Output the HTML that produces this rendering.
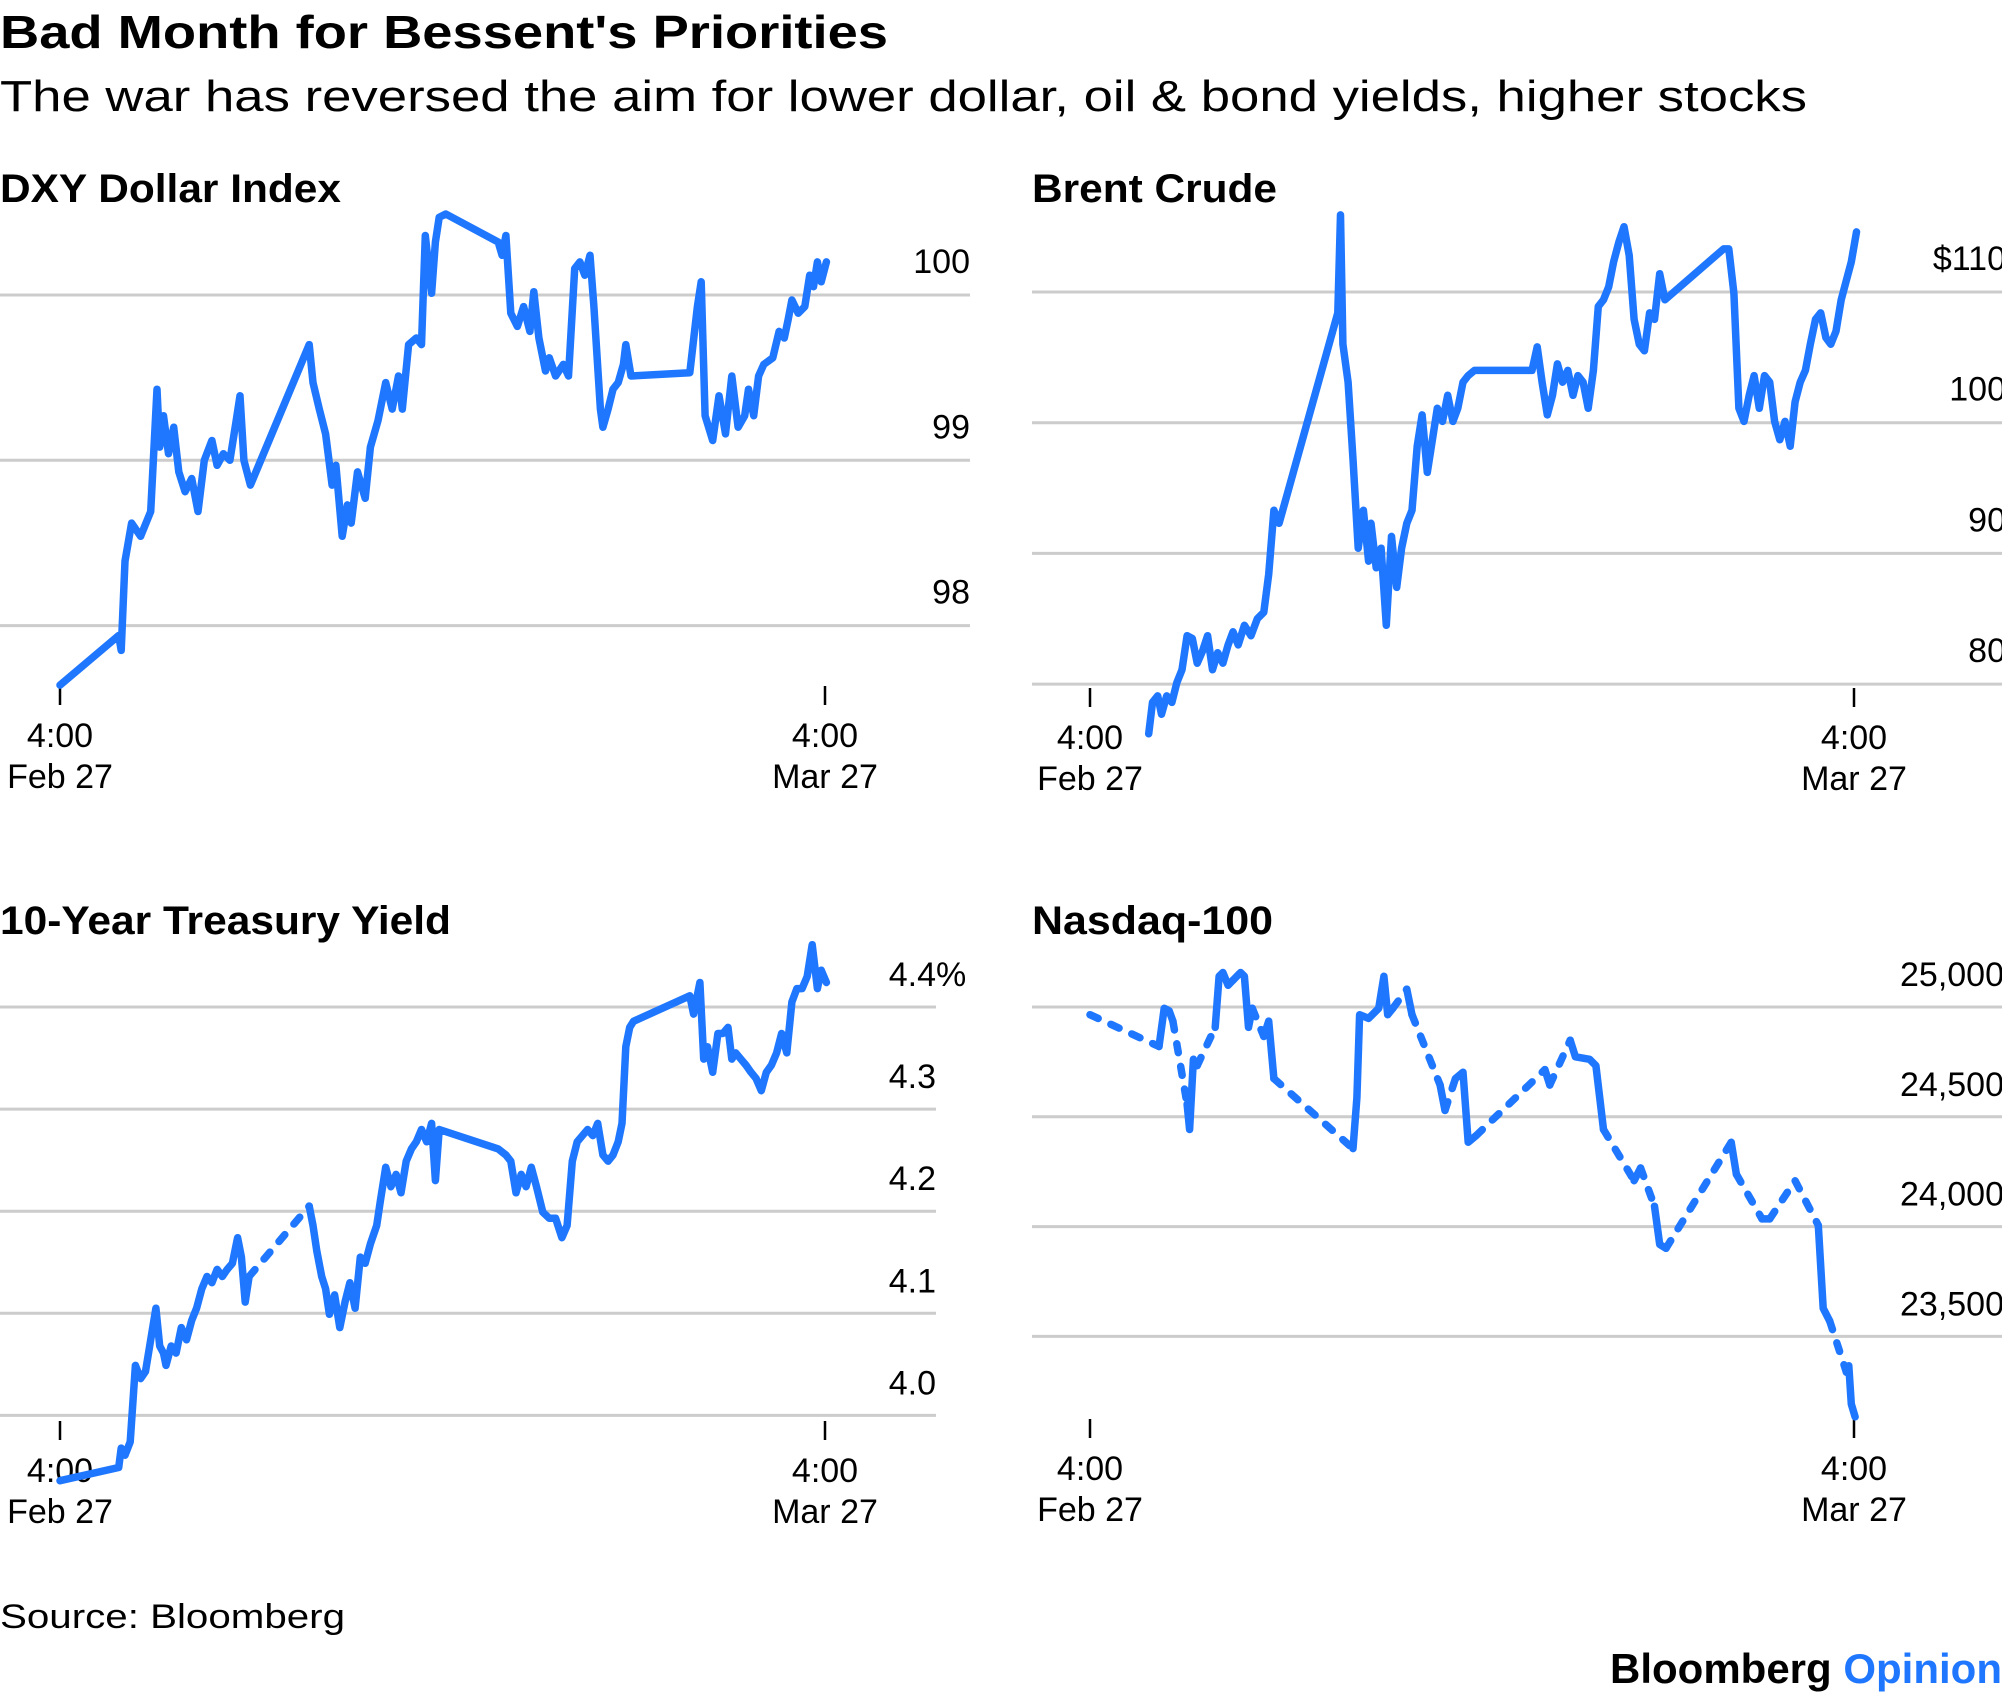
<!DOCTYPE html>
<html><head><meta charset="utf-8"><style>
html,body{margin:0;padding:0;background:#fff;}
svg{display:block;font-family:"Liberation Sans",Arial,sans-serif;}
</style></head><body>
<svg id="chart" width="2002" height="1698" viewBox="0 0 2002 1698" xmlns="http://www.w3.org/2000/svg">
<text x="0" y="48" font-size="46" font-weight="bold" fill="#000" textLength="888" lengthAdjust="spacingAndGlyphs">Bad Month for Bessent's Priorities</text>
<text x="0" y="111" font-size="44" fill="#000" textLength="1807" lengthAdjust="spacingAndGlyphs">The war has reversed the aim for lower dollar, oil &amp; bond yields, higher stocks</text>
<text x="0" y="202" font-size="40" font-weight="bold" textLength="341" lengthAdjust="spacingAndGlyphs">DXY Dollar Index</text>
<text x="1032" y="202" font-size="40" font-weight="bold" textLength="245" lengthAdjust="spacingAndGlyphs">Brent Crude</text>
<text x="0" y="934" font-size="40" font-weight="bold" textLength="451" lengthAdjust="spacingAndGlyphs">10-Year Treasury Yield</text>
<text x="1032" y="934" font-size="40" font-weight="bold" textLength="241" lengthAdjust="spacingAndGlyphs">Nasdaq-100</text>
<text x="0" y="1628" font-size="34" textLength="345" lengthAdjust="spacingAndGlyphs">Source: Bloomberg</text>
<text x="2002" y="1683" font-size="42" font-weight="bold" text-anchor="end">Bloomberg <tspan fill="#1f77ff">Opinion</tspan></text>
<g id="panels"></g>
</svg>
<script>
// ---- DXY data ----
const dxyDays=[0,2.15,2.24,2.38,2.62,2.95,3.32,3.55,3.65,3.79,3.97,4.16,4.35,4.58,4.82,5.05,5.28,5.56,5.75,5.98,6.22,6.45,6.59,6.73,6.97,9.12,9.26,9.49,9.72,9.96,10.10,10.33,10.52,10.66,10.89,11.17,11.36,11.64,11.92,12.16,12.39,12.53,12.76,13.04,13.23,13.37,13.60,13.74,13.88,14.12,16.04,16.18,16.32,16.50,16.74,16.97,17.20,17.34,17.53,17.77,17.91,18.14,18.42,18.61,18.84,19.03,19.21,19.40,19.54,19.78,19.87,20.06,20.24,20.43,20.62,20.71,20.90,23.05,23.33,23.47,23.61,23.89,24.12,24.36,24.59,24.82,25.06,25.20,25.39,25.57,25.76,26.09,26.32,26.51,26.65,26.79,27.02,27.26,27.44,27.58,27.72,27.86,28.05];
const dxyValues=[97.64,97.94,97.85,98.39,98.62,98.54,98.69,99.43,99.08,99.27,99.04,99.20,98.93,98.81,98.89,98.69,99.00,99.12,98.97,99.04,99.00,99.24,99.39,99.00,98.85,99.70,99.47,99.31,99.16,98.85,98.97,98.54,98.73,98.62,98.93,98.77,99.08,99.24,99.47,99.31,99.51,99.31,99.70,99.74,99.70,100.36,100.01,100.32,100.47,100.49,100.32,100.24,100.36,99.89,99.81,99.93,99.78,100.02,99.74,99.54,99.62,99.51,99.58,99.51,100.16,100.20,100.12,100.24,99.93,99.31,99.20,99.31,99.43,99.47,99.58,99.70,99.51,99.53,99.93,100.08,99.27,99.12,99.39,99.16,99.51,99.20,99.27,99.43,99.27,99.51,99.58,99.62,99.78,99.74,99.85,99.97,99.89,99.93,100.12,100.05,100.20,100.08,100.20];
const dxyTicks=[100,99,98];
// ---- Brent data ----
const brentDays=[2.15,2.29,2.48,2.62,2.81,3.00,3.18,3.37,3.56,3.75,3.93,4.12,4.31,4.49,4.68,4.87,5.06,5.24,5.43,5.66,5.90,6.13,6.37,6.55,6.74,6.93,9.08,9.18,9.27,9.46,9.64,9.83,10.02,10.21,10.30,10.49,10.67,10.86,11.05,11.24,11.42,11.61,11.80,11.99,12.17,12.36,12.55,12.73,12.92,13.11,13.30,13.48,13.67,13.86,14.09,16.20,16.39,16.57,16.76,16.95,17.13,17.32,17.51,17.70,17.88,18.07,18.26,18.45,18.63,18.82,19.01,19.19,19.38,19.57,19.76,19.94,20.13,20.32,20.51,20.69,20.88,21.07,23.22,23.41,23.60,23.78,23.97,24.16,24.34,24.53,24.72,24.91,25.09,25.28,25.47,25.66,25.84,26.03,26.22,26.40,26.59,26.78,26.97,27.15,27.34,27.53,27.72,27.90,28.09];
const brentValues=[76.2,78.6,79.1,77.7,79.1,78.6,80.1,81.1,83.7,83.5,81.6,82.5,83.7,81.1,82.4,81.6,83.0,84.0,83.0,84.5,83.7,85.0,85.5,88.4,93.3,92.3,108.4,115.9,106.0,103.1,97.2,90.4,93.3,89.4,92.3,88.9,90.4,84.5,91.3,87.4,90.4,92.3,93.3,98.2,100.6,96.2,98.7,101.1,100.1,102.1,100.1,101.1,103.1,103.6,104.0,104.0,105.8,103.1,100.6,102.1,104.5,103.1,104.0,102.1,103.6,103.1,101.1,104.0,108.9,109.4,110.4,112.3,113.8,115.0,112.8,107.9,106.0,105.5,108.4,107.9,111.4,109.4,113.3,113.3,109.9,101.1,100.1,102.1,103.6,101.1,103.6,103.1,100.1,98.7,100.1,98.2,101.6,103.1,104.0,106.0,107.9,108.4,106.5,106.0,107.0,109.4,110.9,112.3,114.6];
const brentTicks=[110,100,90,80];
// ---- 10Y data ----
const tyDays=[0,2.15,2.24,2.38,2.57,2.76,2.95,3.13,3.32,3.51,3.65,3.79,3.88,4.07,4.25,4.44,4.63,4.82,5.00,5.19,5.38,5.56,5.75,5.94,6.12,6.31,6.50,6.64,6.78,6.92,9.12,9.26,9.40,9.58,9.72,9.86,10.05,10.24,10.43,10.61,10.80,10.99,11.17,11.36,11.59,11.73,11.92,12.11,12.30,12.48,12.67,12.86,13.04,13.23,13.42,13.60,13.74,13.88,16.04,16.32,16.50,16.69,16.88,17.06,17.25,17.44,17.67,17.91,18.14,18.37,18.56,18.75,18.93,19.12,19.31,19.50,19.68,19.87,20.06,20.24,20.43,20.57,20.71,20.85,20.99,23.05,23.19,23.42,23.56,23.70,23.89,24.08,24.26,24.45,24.59,24.73,24.92,25.11,25.29,25.48,25.67,25.85,26.04,26.23,26.41,26.60,26.79,26.97,27.16,27.35,27.53,27.72,27.86,28.05];
const tyValues=[3.936,3.949,3.968,3.961,3.974,4.049,4.036,4.043,4.074,4.105,4.068,4.061,4.049,4.068,4.061,4.086,4.074,4.093,4.105,4.124,4.136,4.130,4.143,4.136,4.143,4.149,4.174,4.155,4.111,4.136,4.205,4.186,4.161,4.136,4.124,4.099,4.118,4.086,4.111,4.130,4.105,4.155,4.149,4.168,4.186,4.211,4.243,4.224,4.236,4.218,4.249,4.261,4.268,4.280,4.268,4.286,4.230,4.280,4.261,4.255,4.249,4.218,4.236,4.224,4.243,4.224,4.199,4.193,4.193,4.174,4.186,4.249,4.268,4.274,4.280,4.274,4.286,4.255,4.249,4.255,4.268,4.286,4.361,4.380,4.386,4.411,4.393,4.424,4.349,4.361,4.336,4.374,4.374,4.380,4.349,4.355,4.349,4.343,4.336,4.330,4.318,4.336,4.343,4.355,4.374,4.355,4.405,4.418,4.418,4.430,4.461,4.418,4.436,4.424];
const tyDashedAfter=[6.92];
const tyTicks=[4.4,4.3,4.2,4.1,4.0];
// ---- Nasdaq data ----
const ndxDays=[0,2.53,2.72,2.90,3.04,3.56,3.65,3.79,3.93,4.59,4.73,4.87,5.06,5.24,5.52,5.66,5.81,5.95,6.37,6.55,6.74,9.64,9.78,9.88,10.21,10.58,10.77,10.91,11.10,11.61,11.80,12.83,13.01,13.39,13.67,13.86,14.14,16.67,16.85,17.60,17.79,18.31,18.54,18.82,19.94,20.18,20.69,20.88,21.11,23.50,23.69,24.63,24.91,25.84,26.69,26.87,27.11,27.72,27.81,27.90,28.04];
const ndxValues=[24965,24820,24994,24983,24936,24558,24442,24762,24733,24907,25140,25157,25099,25122,25157,25140,24907,24994,24866,24936,24674,24355,24587,24965,24948,24994,25140,24965,24994,25081,24965,24645,24529,24674,24703,24384,24413,24715,24645,24849,24773,24762,24733,24442,24209,24267,24093,23919,23901,24384,24238,24035,24035,24209,24006,23628,23570,23337,23366,23192,23134];
const ndxDashed=[1,0,0,0,1,0,0,0,1,0,0,0,0,1,0,0,0,1,0,0,1,0,0,0,0,0,0,0,1,0,1,0,1,0,0,0,1,0,1,0,0,0,0,1,0,1,0,0,1,0,1,0,1,1,0,0,1,0,0,0,0];
const ndxTicks=[25000,24500,24000,23500];

const NS="http://www.w3.org/2000/svg";
const root=document.getElementById('panels');
const BLUE="#1f77ff";
function mk(tag,attrs,parent){const e=document.createElementNS(NS,tag);for(const k in attrs)e.setAttribute(k,attrs[k]);(parent||root).appendChild(e);return e;}

function panel(cfg){
  const g=mk('g',{});
  
  
  const xs=d=>cfg.x0+d*(cfg.x1-cfg.x0)/28;
  const ys=v=>cfg.yTop+(cfg.vTop-v)*cfg.pxPerUnit;
  cfg.ticks.forEach((t,i)=>{
    const y=ys(t);
    const l=mk('line',{x1:cfg.gx0,x2:cfg.gx1,y1:y,y2:y,stroke:'#cccccc','stroke-width':3},g);
    
    
    const tx=mk('text',{x:cfg.lx,y:y-cfg.labelOff,'font-size':34,'text-anchor':'end',fill:'#000'},g);
    
    
    tx.textContent=cfg.fmt(t,i);
    if(cfg.pct&&i===0){
      const p=mk('text',{x:cfg.lx,y:y-cfg.labelOff,'font-size':34,fill:'#000'},g);
      
      
      p.textContent='%';
    }
  });
  [[0,'Feb 27'],[28,'Mar 27']].forEach(([d,lab])=>{
    const x=xs(d);
    const tk=mk('line',{x1:x,x2:x,y1:cfg.tickY,y2:cfg.tickY+19,stroke:'#000','stroke-width':2.5},g);
    
    
    const a=mk('text',{x:x,y:cfg.tickY+61,'font-size':34,'text-anchor':'middle'},g);
    
    
    a.textContent='4:00';
    const b=mk('text',{x:x,y:cfg.tickY+102,'font-size':34,'text-anchor':'middle'},g);
    
    
    b.textContent=lab;
  });
  const segs=[];
  for(let i=0;i<cfg.days.length-1;i++){
    const dashed=cfg.dashed?!!cfg.dashed[i]:false;
    const p1=[xs(cfg.days[i]),ys(cfg.vals[i])],p2=[xs(cfg.days[i+1]),ys(cfg.vals[i+1])];
    const last=segs[segs.length-1];
    if(last&&last.dashed===dashed){last.pts.push(p2);}else segs.push({dashed,pts:[p1,p2]});
  }
  segs.forEach(s=>{
    const d='M'+s.pts.map(p=>p[0].toFixed(1)+','+p[1].toFixed(1)).join('L');
    const attrs={d:d,fill:'none',stroke:BLUE,'stroke-width':7.5,'stroke-linejoin':'round','stroke-linecap':'round'};
    if(s.dashed){attrs['stroke-dasharray']='9 14';}
    const p=mk('path',attrs,g);
    
    
  });
}
const tyDashArr=tyDays.map(d=>tyDashedAfter.indexOf(d)>=0?1:0);
panel({name:'dxy',days:dxyDays,vals:dxyValues,ticks:dxyTicks,x0:60,x1:825,yTop:295,vTop:100,pxPerUnit:165.3,gx0:0,gx1:970,lx:970,labelOff:22,tickY:686,fmt:t=>String(t)});
panel({name:'brent',days:brentDays,vals:brentValues,ticks:brentTicks,x0:1090,x1:1854,yTop:292,vTop:110,pxPerUnit:13.07,gx0:1032,gx1:2002,lx:2006,labelOff:22,tickY:688,fmt:(t,i)=>i===0?'$'+t:String(t)});
panel({name:'treasury',days:tyDays,vals:tyValues,dashed:tyDashArr,ticks:tyTicks,x0:60,x1:825,yTop:1007,vTop:4.4,pxPerUnit:1021,gx0:0,gx1:936,lx:936,labelOff:21,tickY:1421,pct:true,fmt:t=>t.toFixed(1)});
panel({name:'nasdaq',days:ndxDays,vals:ndxValues,dashed:ndxDashed,ticks:ndxTicks,x0:1090,x1:1854,yTop:1007,vTop:25000,pxPerUnit:0.2196,gx0:1032,gx1:2002,lx:2004,labelOff:21,tickY:1419,fmt:t=>t.toLocaleString('en-US')});
</script>
</body></html>
